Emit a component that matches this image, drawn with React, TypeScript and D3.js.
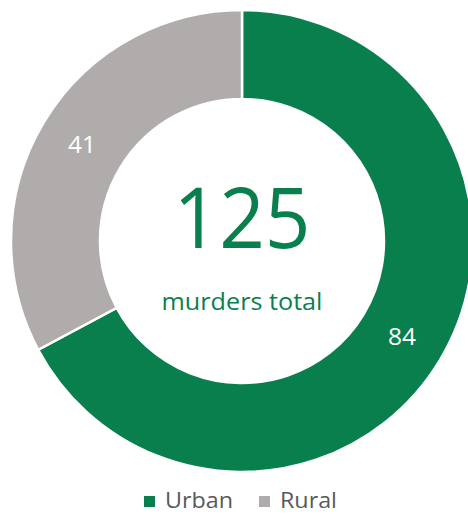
import React from "react";
import * as d3 from "d3";

const categories = ["Urban", "Rural"];
const values = [84, 41];
const colors = ["#0a7f4e", "#afacab"];
const totalLabel = "125";
const subLabel = "murders total";

export default function App() {
  const width = 468;
  const height = 514;
  const cx = 242;
  const cy = 241;
  const outerR = 231;
  const innerR = 142;
  const font = "'Open Sans', 'Noto Sans', sans-serif";

  const pie = d3.pie<number>().sort(null).value((d) => d);
  const arcs = pie(values);
  const arc = d3.arc<d3.PieArcDatum<number>>().innerRadius(innerR).outerRadius(outerR);

  const legendX = [144, 259];
  const legendTextLen = [68, 57];

  return (
    <svg
      width={width}
      height={height}
      style={{ position: "absolute", left: 0, top: 0, background: "#fff" }}
    >
      <g transform={`translate(${cx},${cy})`}>
        {arcs.map((a, i) => (
          <path key={i} d={arc(a) || ""} fill={colors[i]} stroke="#fff" strokeWidth={2.5} />
        ))}
        {arcs.map((a, i) => {
          const [x, y] = arc.centroid(a);
          return (
            <text
              key={"l" + i}
              x={x}
              y={y}
              dy="0.36em"
              textAnchor="middle"
              fill="#fff"
              fontFamily={font}
              fontSize={23}
              textLength={28}
              lengthAdjust="spacingAndGlyphs"
            >
              {values[i]}
            </text>
          );
        })}
        <text
          x={0}
          y={7}
          textAnchor="middle"
          fill="#0a7f4e"
          fontFamily={font}
          fontSize={84}
          textLength={137}
          lengthAdjust="spacingAndGlyphs"
        >
          {totalLabel}
        </text>
        <text
          x={0}
          y={69}
          textAnchor="middle"
          fill="#0a7f4e"
          fontFamily={font}
          fontSize={23}
          textLength={161}
          lengthAdjust="spacingAndGlyphs"
        >
          {subLabel}
        </text>
      </g>
      {categories.map((c, i) => (
        <g key={c}>
          <rect x={legendX[i]} y={496} width={11} height={11} fill={colors[i]} />
          <text
            x={legendX[i] + 21}
            y={508}
            fill="#595959"
            fontFamily={font}
            fontSize={21}
            textLength={legendTextLen[i]}
            lengthAdjust="spacingAndGlyphs"
          >
            {c}
          </text>
        </g>
      ))}
    </svg>
  );
}
